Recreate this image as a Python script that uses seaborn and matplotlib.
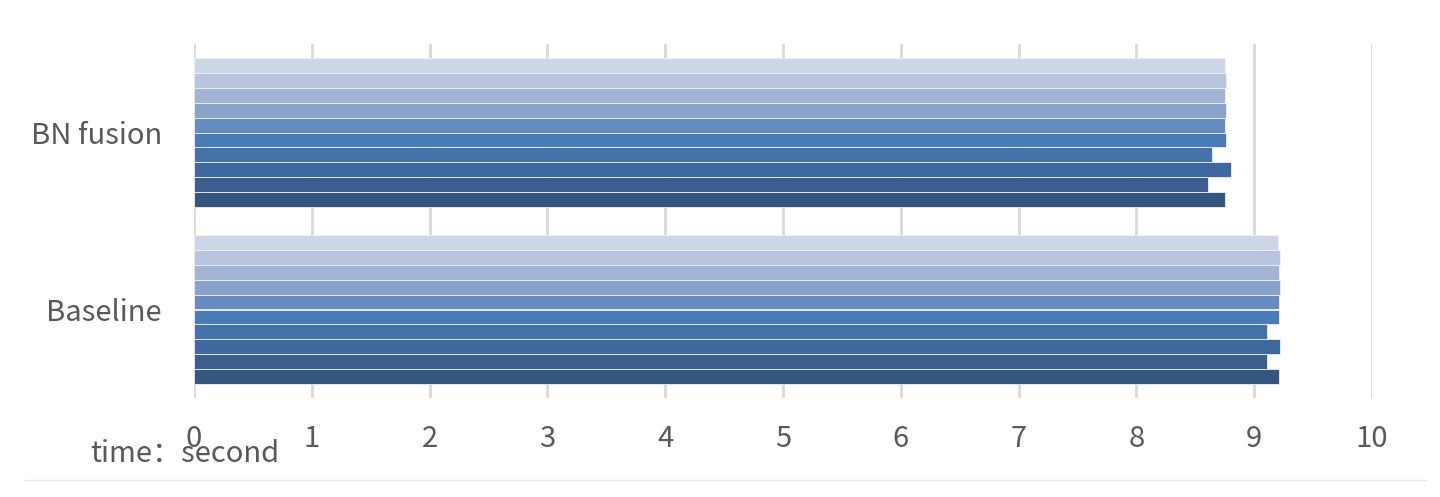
import numpy as np
import pandas as pd
import matplotlib
matplotlib.use('Agg')
import matplotlib.pyplot as plt
import seaborn as sns
from matplotlib.lines import Line2D

# data, listed top-to-bottom inside each group
categories = ['BN fusion', 'Baseline']
series = ['s1', 's2', 's3', 's4', 's5', 's6', 's7', 's8', 's9', 's10']
bn_fusion = [8.75, 8.76, 8.75, 8.76, 8.75, 8.76, 8.64, 8.80, 8.61, 8.75]
baseline = [9.20, 9.22, 9.21, 9.215, 9.21, 9.21, 9.11, 9.22, 9.11, 9.21]
x_ticks = [0, 1, 2, 3, 4, 5, 6, 7, 8, 9, 10]

colors = ['#CDD5E6', '#B9C5DE', '#A2B4D6', '#8AA3CB', '#668DC2',
          '#4A7CB8', '#4572A9', '#3F699E', '#3A5F8F', '#34567F']

df = pd.DataFrame({
    'category': [categories[0]] * len(series) + [categories[1]] * len(series),
    'series': series + series,
    'value': bn_fusion + baseline,
})

sns.set_style('white')
plt.rcParams['font.family'] = ['Noto Sans CJK SC', 'DejaVu Sans']
text_color = '#595959'

fig = plt.figure(figsize=(14.4, 4.97), dpi=100)
ax = fig.add_axes([194 / 1440, 1 - 398 / 497, (1372 - 194) / 1440, (398 - 44) / 497])

sns.barplot(data=df, y='category', x='value', hue='series', order=categories,
            hue_order=series, palette=colors, saturation=1, orient='h', width=0.84,
            dodge=True, edgecolor='#eef1f7', linewidth=0.6, legend=False, ax=ax,
            zorder=3)

ax.set_xlim(0, 10)
ax.set_ylim(1.5, -0.5)
ax.set_xticks(x_ticks)
ax.set_xticklabels([str(t) for t in x_ticks])
ax.grid(axis='x', color='#d9d9d9', linewidth=2.0, zorder=0)
ax.grid(axis='y', visible=False)
ax.set_axisbelow(True)
for s in ax.spines.values():
    s.set_visible(False)
ax.set_xlabel('')
ax.set_ylabel('')
ax.tick_params(axis='x', length=0, pad=19, labelsize=21, labelcolor=text_color)
ax.tick_params(axis='y', length=0, pad=23, labelsize=21, labelcolor=text_color)

fig.text(90 / 1440, 1 - 454 / 497, 'time：second', ha='left', va='center',
         fontsize=21, color=text_color)

fig.add_artist(Line2D([25 / 1440, 1426 / 1440], [1 - 480 / 497, 1 - 480 / 497],
                      transform=fig.transFigure, color='#e6e6e6', linewidth=1))

fig.savefig('out.png', dpi=100, facecolor='white')
